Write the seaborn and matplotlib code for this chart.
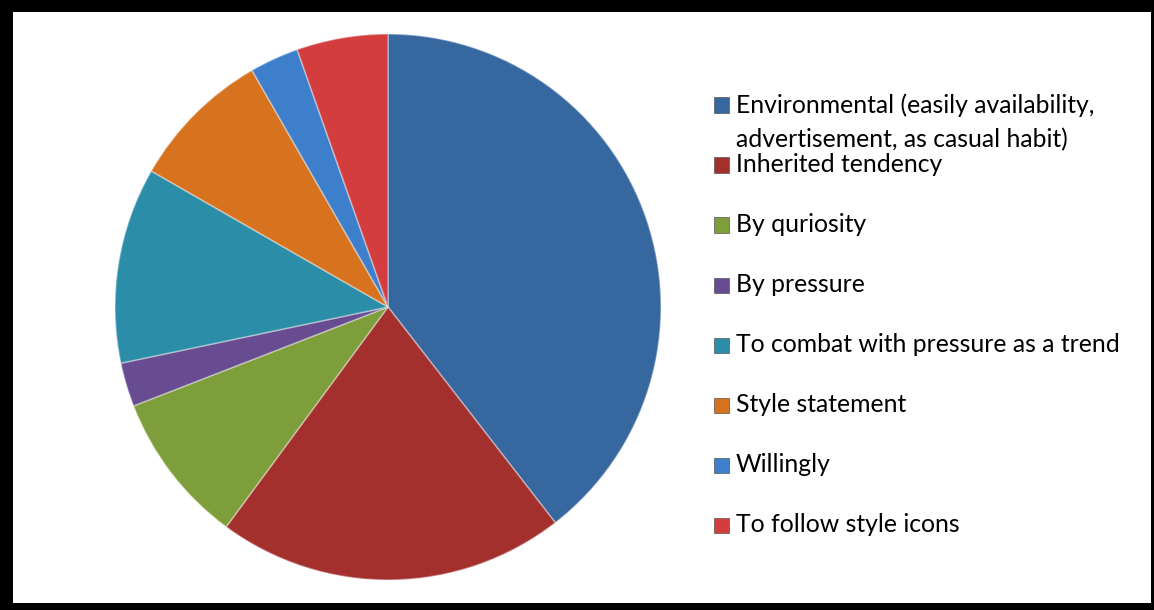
import matplotlib
matplotlib.use("Agg")
import matplotlib.pyplot as plt
import matplotlib.patches as mpatches
import seaborn as sns

# Reasons (share of respondents, %), read clockwise from 12 o'clock
labels = [
    "Environmental (easily availability,\nadvertisement, as casual habit)",
    "Inherited tendency",
    "By quriosity",
    "By pressure",
    "To combat with pressure as a trend",
    "Style statement",
    "Willingly",
    "To follow style icons",
]
shares = [39.5, 20.6, 9.0, 2.6, 11.6, 8.4, 2.9, 5.4]
colors = ["#36679F", "#A4302E", "#7E9E3C", "#684C92",
          "#2C8DA8", "#D7731F", "#3D7FCB", "#D43D3D"]

sns.set_theme(style="white")
plt.rcParams["font.family"] = ["Lato", "DejaVu Sans"]

W, H = 1154, 610
fig = plt.figure(figsize=(W / 100, H / 100), dpi=100, facecolor="black")

# white inner panel (black frame shows around it)
fig.patches.append(mpatches.Rectangle((13 / W, 7 / H), (1151 - 13) / W, (603 - 12) / H,
                                      transform=fig.transFigure, facecolor="white",
                                      edgecolor="none", zorder=-5))

# pie: centre (388, 307) px, radius 273 px
cx, cy, r = 388, 307, 273
ax = fig.add_axes([(cx - r) / W, (H - cy - r) / H, 2 * r / W, 2 * r / H])
ax.set_zorder(5)
ax.patch.set_alpha(0)
ax.pie(shares, colors=colors, startangle=90, counterclock=False,
       wedgeprops=dict(edgecolor=(1, 1, 1, 0.35), linewidth=1.2))
ax.set_xlim(-1, 1)
ax.set_ylim(-1, 1)
ax.set_aspect("equal")
ax.axis("off")

# legend entries (px from top)
ys = [105, 165, 225, 285, 345, 405, 465, 525]
fs = 17.8
for lab, col, y in zip(labels, colors, ys):
    fig.patches.append(mpatches.Rectangle((714 / W, (H - y - 7.5) / H), 15 / W, 15 / H,
                                          transform=fig.transFigure, facecolor=col,
                                          edgecolor="#555555", linewidth=0.5, zorder=3))
    if "\n" in lab:
        first, second = lab.split("\n")
        fig.text(736 / W, (H - y) / H, first, va="center", ha="left", fontsize=fs, color="black")
        fig.text(736 / W, (H - 140) / H, second, va="center", ha="left", fontsize=fs, color="black")
    else:
        fig.text(736 / W, (H - y) / H, lab, va="center", ha="left", fontsize=fs, color="black")

fig.savefig("out.png", dpi=100, facecolor="black")
